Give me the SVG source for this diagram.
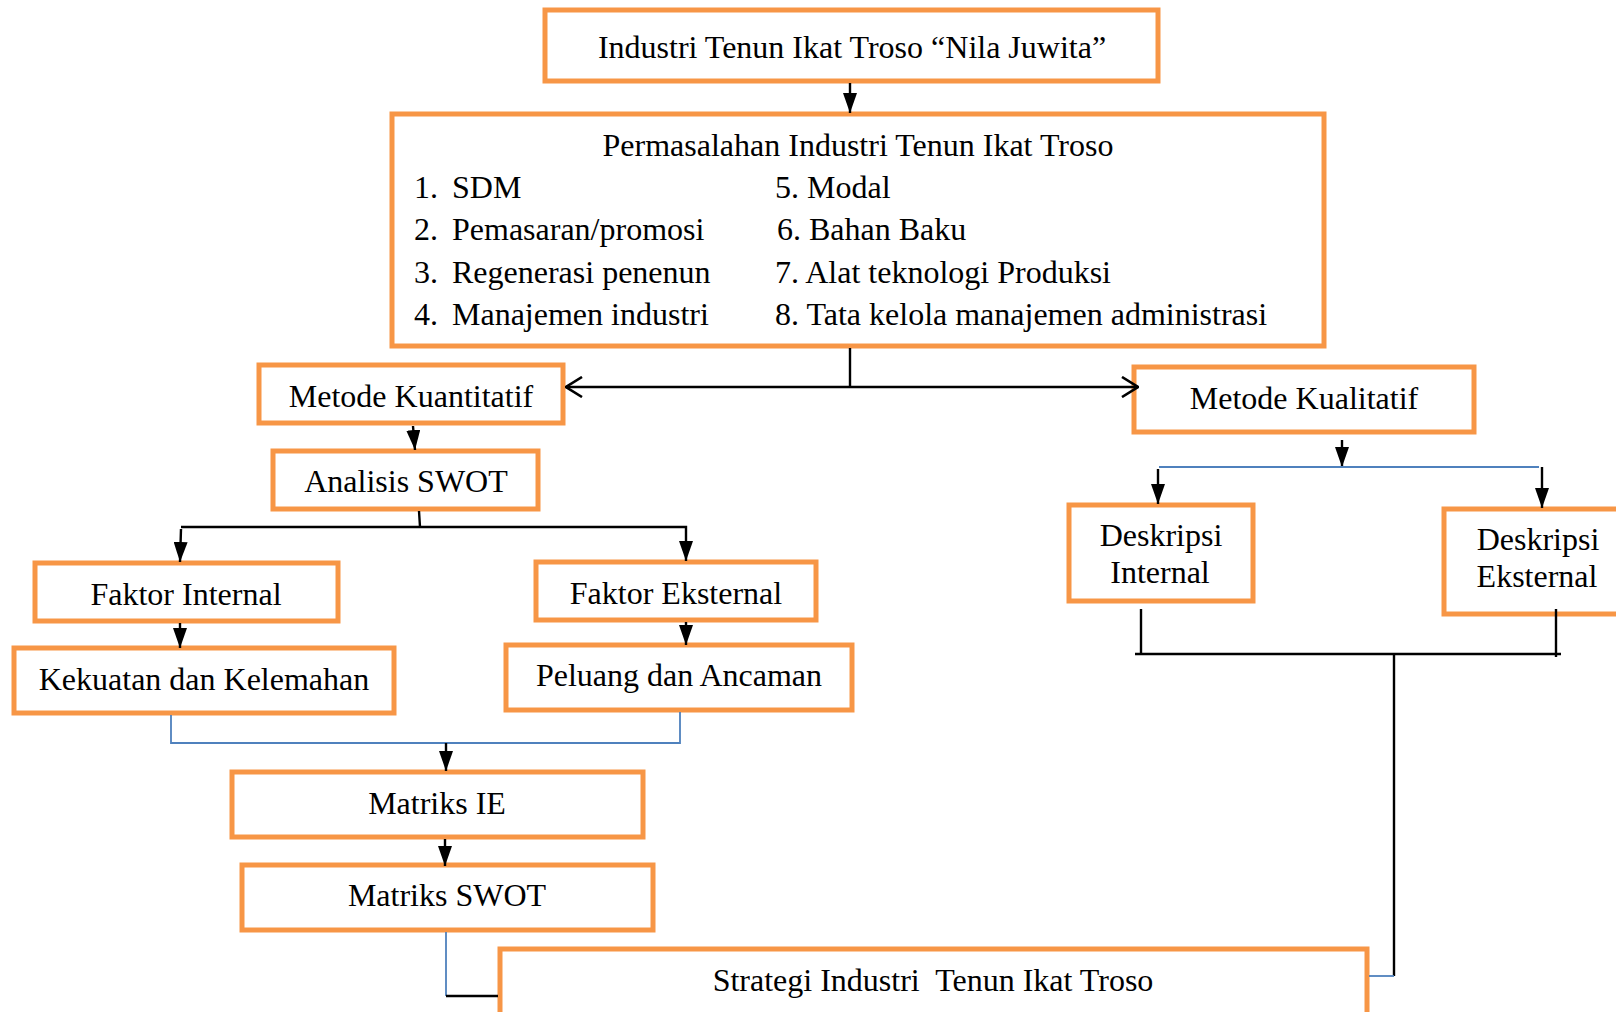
<svg xmlns="http://www.w3.org/2000/svg" width="1616" height="1012" viewBox="0 0 1616 1012">
<defs>
<style>
.box{fill:#fff;stroke:#F79646;stroke-width:5}
.t{font-family:"Liberation Serif","Times New Roman",serif;font-size:32px;fill:#000}
.c{text-anchor:middle}
.k{stroke:#000;stroke-width:2.4;fill:none}
.b{stroke:#4F81BD;stroke-width:1.8;fill:none}
</style>
<marker id="ad" viewBox="0 0 20 14" refX="20" refY="7" markerWidth="20" markerHeight="14" markerUnits="userSpaceOnUse" orient="auto">
<path d="M0,0 L20,7 L0,14 Z" fill="#000"/>
</marker>
<marker id="ov" viewBox="0 0 18 22" refX="17" refY="11" markerWidth="18" markerHeight="22" markerUnits="userSpaceOnUse" orient="auto-start-reverse">
<path d="M1,1 L17,11 L1,21" fill="none" stroke="#000" stroke-width="2.6"/>
</marker>
</defs>
<rect width="1616" height="1012" fill="#fff"/>
<g id="n-top">
<rect class="box" x="545" y="10" width="613" height="71"/>
<text class="t c" x="852" y="58">Industri Tenun Ikat Troso “Nila Juwita”</text>
</g>
<g id="n-permasalahan">
<rect class="box" x="392" y="114" width="932" height="232"/>
<text class="t c" x="858" y="156">Permasalahan Industri Tenun Ikat Troso</text>
<text class="t" x="414" y="198">1.</text><text class="t" x="452" y="198">SDM</text>
<text class="t" x="414" y="240">2.</text><text class="t" x="452" y="240">Pemasaran/promosi</text>
<text class="t" x="414" y="283">3.</text><text class="t" x="452" y="283">Regenerasi penenun</text>
<text class="t" x="414" y="325">4.</text><text class="t" x="452" y="325">Manajemen industri</text>
<text class="t" x="775" y="198">5. Modal</text>
<text class="t" x="777" y="240">6. Bahan Baku</text>
<text class="t" x="775" y="283">7. Alat teknologi Produksi</text>
<text class="t" x="775" y="325">8. Tata kelola manajemen administrasi</text>
</g>
<g id="n-kuantitatif">
<rect class="box" x="259" y="365" width="304" height="58"/>
<text class="t c" x="411" y="407">Metode Kuantitatif</text>
</g>
<g id="n-kualitatif">
<rect class="box" x="1134" y="367" width="340" height="65"/>
<text class="t c" x="1304" y="409">Metode Kualitatif</text>
</g>
<g id="n-swot">
<rect class="box" x="273" y="451" width="265" height="58"/>
<text class="t c" x="406" y="492">Analisis SWOT</text>
</g>
<g id="n-faktor-internal">
<rect class="box" x="35" y="563" width="303" height="58"/>
<text class="t c" x="186" y="605">Faktor Internal</text>
</g>
<g id="n-faktor-eksternal">
<rect class="box" x="536" y="562" width="280" height="58"/>
<text class="t c" x="676" y="604">Faktor Eksternal</text>
</g>
<g id="n-kekuatan">
<rect class="box" x="14" y="648" width="380" height="65"/>
<text class="t c" x="204" y="690">Kekuatan dan Kelemahan</text>
</g>
<g id="n-peluang">
<rect class="box" x="506" y="645" width="346" height="65"/>
<text class="t c" x="679" y="686">Peluang dan Ancaman</text>
</g>
<g id="n-ie">
<rect class="box" x="232" y="772" width="411" height="65"/>
<text class="t c" x="437" y="814">Matriks IE</text>
</g>
<g id="n-matriks-swot">
<rect class="box" x="242" y="865" width="411" height="65"/>
<text class="t c" x="447" y="906">Matriks SWOT</text>
</g>
<g id="n-strategi">
<rect class="box" x="500" y="949" width="867" height="80"/>
<text class="t c" x="933" y="991" xml:space="preserve">Strategi Industri  Tenun Ikat Troso</text>
</g>
<g id="n-deskripsi-internal">
<rect class="box" x="1069" y="505" width="184" height="96"/>
<text class="t c" x="1161" y="546">Deskripsi</text>
<text class="t c" x="1160" y="583">Internal</text>
</g>
<g id="n-deskripsi-eksternal">
<rect class="box" x="1444" y="509" width="190" height="105"/>
<text class="t c" x="1538" y="550">Deskripsi</text>
<text class="t c" x="1537" y="587">Eksternal</text>
</g>
<g id="connectors">
<line class="k" x1="850" y1="83" x2="850" y2="113" marker-end="url(#ad)"/>
<line class="k" x1="850" y1="348" x2="850" y2="387"/>
<line class="k" x1="566" y1="387" x2="1138" y2="387" marker-start="url(#ov)" marker-end="url(#ov)"/>
<line class="k" x1="413" y1="426" x2="415" y2="450" marker-end="url(#ad)"/>
<line class="k" x1="419" y1="511" x2="420" y2="527"/>
<polyline class="k" points="181,527 686,527 686,561" marker-end="url(#ad)"/>
<line class="k" x1="181" y1="529" x2="180" y2="562" marker-end="url(#ad)"/>
<line class="k" x1="180" y1="623" x2="180" y2="648" marker-end="url(#ad)"/>
<line class="k" x1="686" y1="622" x2="686" y2="645" marker-end="url(#ad)"/>
<polyline class="b" points="171,715 171,743 680,743 680,712"/>
<line class="k" x1="446" y1="743" x2="446" y2="771" marker-end="url(#ad)"/>
<line class="k" x1="445" y1="839" x2="445" y2="866" marker-end="url(#ad)"/>
<polyline class="b" points="446,932 446,996"/>
<line class="k" x1="446" y1="996" x2="498" y2="996"/>
<line class="k" x1="1342" y1="440" x2="1342" y2="467" marker-end="url(#ad)"/>
<line class="b" x1="1159" y1="467" x2="1539" y2="467"/>
<line class="k" x1="1158" y1="469" x2="1158" y2="504" marker-end="url(#ad)"/>
<line class="k" x1="1542" y1="467" x2="1542" y2="508" marker-end="url(#ad)"/>
<line class="k" x1="1141" y1="609" x2="1141" y2="653"/>
<line class="k" x1="1556" y1="609" x2="1556" y2="657"/>
<line class="k" x1="1135" y1="654" x2="1561" y2="654"/>
<line class="k" x1="1394" y1="654" x2="1394" y2="976"/>
<line class="b" x1="1369" y1="976" x2="1394" y2="976"/>
</g>
</svg>
